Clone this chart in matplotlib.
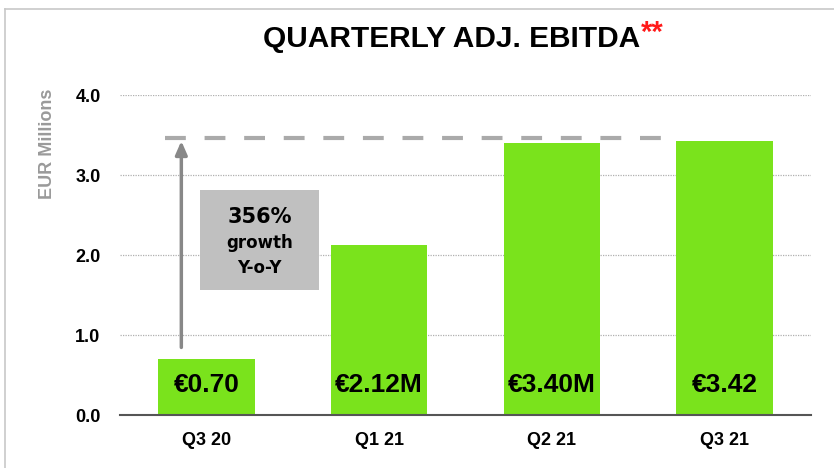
import matplotlib
matplotlib.use("Agg")
import matplotlib.pyplot as plt
from matplotlib.patches import Rectangle
from matplotlib.lines import Line2D

categories = ["Q3 20", "Q1 21", "Q2 21", "Q3 21"]
values = [0.70, 2.12, 3.40, 3.42]
bar_labels = ["€0.70", "€2.12M", "€3.40M", "€3.42"]
yticks = [0.0, 1.0, 2.0, 3.0, 4.0]
ytick_labels = ["0.0", "1.0", "2.0", "3.0", "4.0"]
growth_text = ["356%", "growth", "Y-o-Y"]

narrow = ["Liberation Sans Narrow", "Liberation Sans", "DejaVu Sans"]

fig = plt.figure(figsize=(8.34, 4.68), dpi=100)
fig.patch.set_facecolor("white")

# outer frame lines (left and top)
fig.add_artist(Line2D([5/834, 5/834], [0, 1 - 9/468], color="#c8c8c8", lw=1.2, transform=fig.transFigure))
fig.add_artist(Line2D([5/834, 1], [1 - 9/468, 1 - 9/468], color="#c8c8c8", lw=1.2, transform=fig.transFigure))

ax = fig.add_axes([120/834, 1 - 415/468, 691/834, 320/468])
x = list(range(len(categories)))
ax.bar(x, values, width=0.56, color="#7AE31C", zorder=3)
ax.set_xlim(-0.5, 3.5)
ax.set_ylim(0, 4.0)

ax.set_yticks(yticks)
ax.set_yticklabels(ytick_labels, fontsize=13, fontweight="bold", family=narrow)
ax.set_xticks(x)
ax.set_xticklabels(categories, fontsize=13, fontweight="bold", family=narrow)
ax.tick_params(axis="both", length=0, pad=14)
ax.tick_params(axis="x", pad=12)

for s in ["left", "right", "top"]:
    ax.spines[s].set_visible(False)
ax.spines["bottom"].set_color("#555555")
ax.spines["bottom"].set_linewidth(1.5)
ax.spines["bottom"].set_zorder(4)

for yv in yticks[1:]:
    ax.axhline(yv, color="#b0b0b0", lw=0.9, ls=(0, (1, 1)), zorder=1)

for xi, lab in zip(x, bar_labels):
    ax.text(xi, 0.37, lab, ha="center", va="center", fontsize=19, fontweight="bold",
            family=narrow, zorder=5)

# dashed reference line
ax.plot([-0.237, 2.64], [3.46, 3.46], color="#aaaaaa", lw=3, ls=(0, (5, 4.5)), zorder=2)
# growth arrow
ax.annotate("", xy=(-0.145, 3.46), xytext=(-0.145, 0.81),
            arrowprops=dict(arrowstyle="-|>,head_width=0.35,head_length=0.8", color="#888888", lw=2.5),
            zorder=4)
# grey box
ax.add_patch(Rectangle((-0.035, 1.56), 0.685, 1.25, facecolor="#c0c0c0", edgecolor="none", zorder=3))
ax.text(0.307, 2.47, growth_text[0], ha="center", va="center", fontsize=15, fontweight="bold", zorder=5)
ax.text(0.307, 2.15, growth_text[1], ha="center", va="center", fontsize=12, fontweight="bold", zorder=5)
ax.text(0.307, 1.84, growth_text[2], ha="center", va="center", fontsize=12, fontweight="bold", zorder=5)

# y label
fig.text(47/834, 1 - 144/468, "EUR Millions", rotation=90, ha="center", va="center",
         fontsize=13, fontweight="bold", color="#9a9a9a", family=["Liberation Sans", "DejaVu Sans"])

# title
fig.text(640/834, 1 - 39/468, "QUARTERLY ADJ. EBITDA", ha="right", va="center",
         fontsize=21.5, fontweight="bold", family=["Liberation Sans", "DejaVu Sans"])
fig.text(641/834, 1 - 33/468, "**", ha="left", va="center", fontsize=21, fontweight="bold",
         color="#ff1a1a", family=["Liberation Sans", "DejaVu Sans"])

fig.savefig("out.png", dpi=100, facecolor="white")
